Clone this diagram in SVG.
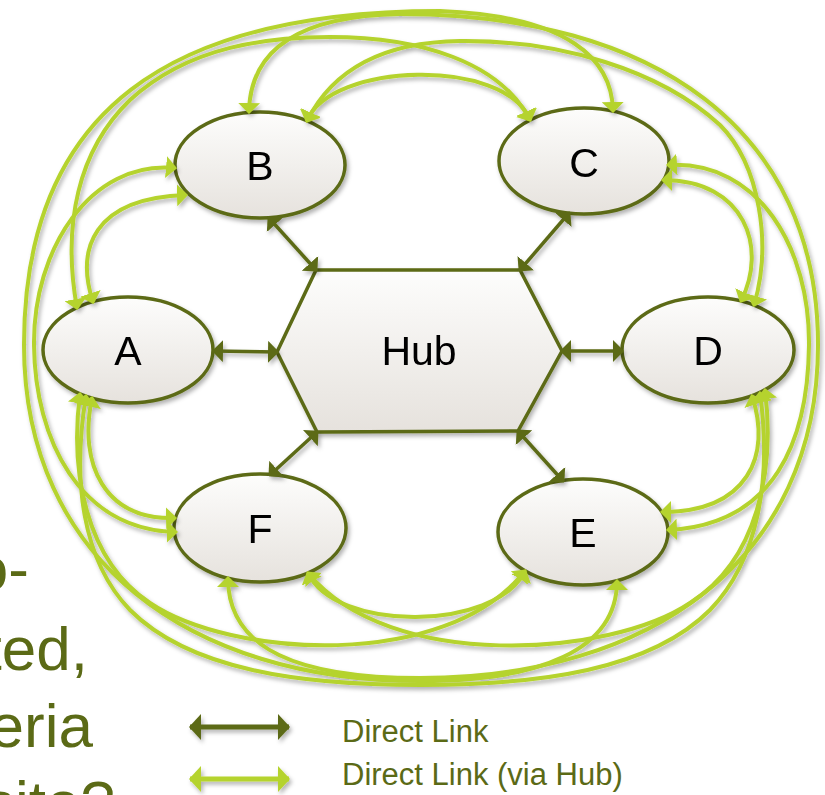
<svg xmlns="http://www.w3.org/2000/svg" width="825" height="795" viewBox="0 0 825 795">
<defs>
<style>
.lt{fill:none;stroke:#b5d32e;stroke-width:4;marker-start:url(#ml);marker-end:url(#ml)}
.dk{fill:none;stroke:#5b6a16;stroke-width:3.5;marker-start:url(#md);marker-end:url(#md)}
.nd{fill:url(#ng);stroke:#5b6a16;stroke-width:3.5}
.lb{font-family:"Liberation Sans",Arial,sans-serif;font-size:41px;fill:#000;text-anchor:middle}
.side{font-family:"Liberation Sans",Arial,sans-serif;font-size:62px;fill:#5b6a16;text-anchor:end}
.lg{font-family:"Liberation Sans",Arial,sans-serif;font-size:31px;fill:#5b6a16}
</style>
<linearGradient id="ng" x1="0" y1="0" x2="0" y2="1">
<stop offset="0" stop-color="#fdfdfc"/>
<stop offset="1" stop-color="#e6e2dd"/>
</linearGradient>
<filter id="sh" x="-10%" y="-10%" width="125%" height="125%">
<feDropShadow dx="2" dy="3" stdDeviation="2" flood-color="#000" flood-opacity="0.3"/>
</filter>
<filter id="shu" filterUnits="userSpaceOnUse" x="170" y="700" width="140" height="100">
<feDropShadow dx="2" dy="3" stdDeviation="2" flood-color="#000" flood-opacity="0.3"/>
</filter>
<marker id="ml" viewBox="0 0 11 22" markerWidth="11" markerHeight="22" refX="9" refY="11" orient="auto-start-reverse" markerUnits="userSpaceOnUse">
<path d="M0,0 L11,11 L0,22 Z" fill="#b5d32e"/>
</marker>
<marker id="md" viewBox="0 0 11 22" markerWidth="11" markerHeight="22" refX="9" refY="11" orient="auto-start-reverse" markerUnits="userSpaceOnUse">
<path d="M0,0 L11,11 L0,22 Z" fill="#5b6a16"/>
</marker>
<marker id="mgd" viewBox="0 0 12 26" markerWidth="12" markerHeight="26" refX="11" refY="13" orient="auto-start-reverse" markerUnits="userSpaceOnUse">
<path d="M0,0 L12,13 L0,26 Z" fill="#5b6a16"/>
</marker>
<marker id="mgl" viewBox="0 0 12 26" markerWidth="12" markerHeight="26" refX="11" refY="13" orient="auto-start-reverse" markerUnits="userSpaceOnUse">
<path d="M0,0 L12,13 L0,26 Z" fill="#b5d32e"/>
</marker>
</defs>
<rect width="825" height="795" fill="#fff"/>

<g id="side-text">
<text class="side" x="29" y="590">o-</text>
<text class="side" x="88" y="670">ted,</text>
<text class="side" x="93" y="747">eria</text>
<text class="side" x="115" y="824">site?</text>
</g>

<g id="nodes" filter="url(#sh)">
<g id="node-hub"><polygon class="nd" points="316,270 520,270 562,351 518,431 317,432 277,352"/><text class="lb" x="419" y="365">Hub</text></g>
<g id="node-A"><ellipse class="nd" cx="128" cy="350" rx="85" ry="53"/><text class="lb" x="128" y="365">A</text></g>
<g id="node-B"><ellipse class="nd" cx="260" cy="165" rx="85" ry="53"/><text class="lb" x="260" y="180">B</text></g>
<g id="node-C"><ellipse class="nd" cx="584" cy="161" rx="85" ry="53"/><text class="lb" x="584" y="177">C</text></g>
<g id="node-D"><ellipse class="nd" cx="708" cy="350" rx="86" ry="53"/><text class="lb" x="708" y="365">D</text></g>
<g id="node-E"><ellipse class="nd" cx="583" cy="532" rx="85" ry="53"/><text class="lb" x="583" y="547">E</text></g>
<g id="node-F"><ellipse class="nd" cx="260" cy="528" rx="86" ry="54"/><text class="lb" x="260" y="543">F</text></g>
</g>

<g id="connectors" filter="url(#sh)">
<path class="dk" d="M277,352 L214,351"/>
<path class="dk" d="M316,270 L269,218"/>
<path class="dk" d="M520,270 L569,213"/>
<path class="dk" d="M562,351 L622,351"/>
<path class="dk" d="M518,431 L563,481"/>
<path class="dk" d="M317,432 L270,475"/>

<path class="lt" d="M93,302 C76,250 92,198 186,195"/>
<path class="lt" d="M92,398 C78,465 105,520 175,518"/>
<path class="lt" d="M307,121 C330,62 505,57 530,120"/>
<path class="lt" d="M663,180 C745,180 768,248 741,301"/>
<path class="lt" d="M752,396 C772,455 748,512 662,512"/>
<path class="lt" d="M525,571 C495,632 335,632 308,573"/>
<path class="lt" d="M77,308 C62,225 78,150 130,100 C190,45 270,37 330,37 C420,37 500,62 530,120"/>
<path class="lt" d="M307,121 C335,65 390,42 460,41 C560,40 660,70 720,125 C760,165 772,245 754,305"/>
<path class="lt" d="M249,112 C250,55 290,16 400,14 C655,14 818,130 818,345 C818,560 650,678 420,678 C300,678 228,650 228,578"/>
<path class="lt" d="M613,111 C612,60 570,16 440,11 C170,11 24,110 24,345 C24,560 190,681 420,681 C540,681 617,650 617,581"/>
<path class="lt" d="M175,168 C90,160 33,250 34,345 C35,440 80,530 176,532"/>
<path class="lt" d="M668,165 C760,160 810,250 809,345 C808,440 775,525 668,530"/>
<path class="lt" d="M80,394 C70,470 85,560 150,603 C230,657 445,672 525,571"/>
<path class="lt" d="M765,390 C775,470 758,560 690,603 C610,657 390,672 308,573"/>
<path class="lt" d="M86,396 C72,480 82,560 130,610 C190,670 300,685 420,685 C540,685 650,670 710,610 C758,560 772,480 760,393"/>
</g>

<g id="legend">
<g filter="url(#shu)">
<path d="M190,727 L289,727" stroke="#5b6a16" stroke-width="5" fill="none" marker-start="url(#mgd)" marker-end="url(#mgd)"/>
<path d="M190,779 L289,779" stroke="#b5d32e" stroke-width="5" fill="none" marker-start="url(#mgl)" marker-end="url(#mgl)"/>
</g>
<text class="lg" x="342" y="742">Direct Link</text>
<text class="lg" x="342" y="785">Direct Link (via Hub)</text>
</g>
</svg>
